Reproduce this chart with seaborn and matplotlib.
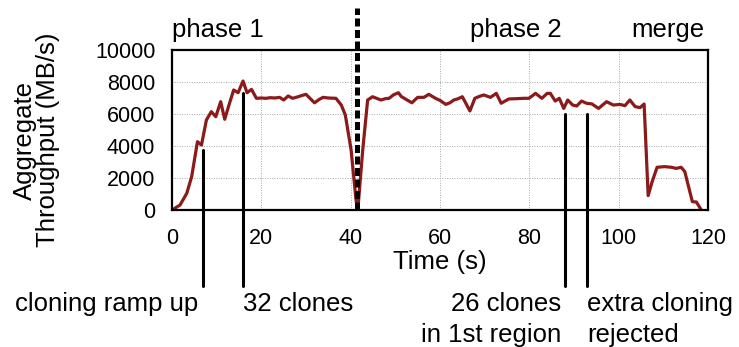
import matplotlib
matplotlib.use("Agg")
import matplotlib.pyplot as plt
import matplotlib.transforms as mtransforms
import pandas as pd
import seaborn as sns

# Aggregate throughput over time (seconds, MB/s)
time_s = [
    0, 1.8, 3.3, 4.4, 5.7, 6.6, 7.7, 8.8, 9.8, 10.9, 11.8, 12.8, 13.8, 14.8,
    15.9, 16.8, 17.8, 18.9, 20, 21, 22, 23, 24.1, 25, 26, 27, 28, 29, 30, 31,
    31.9, 32.9, 33.8, 35, 36.7, 37.9, 38.8, 40.1, 41.2, 41.6, 42.7, 43.8, 44.9,
    45.8, 46.8, 47.8, 48.6, 49.6, 50.7, 51.3, 52, 53.7, 55, 56.4, 57.5, 59, 60,
    61.3, 62.2, 63.1, 64, 65, 66.7, 67.8, 68.8, 69.8, 71.3, 72.6, 73.7, 74.5,
    75.4, 77.3, 78.7, 79.9, 81.4, 82.8, 84, 84.7, 85.8, 86.7, 87.7, 88.6, 89.7,
    90.6, 91.7, 92.8, 94, 95.5, 97.3, 98.8, 100.3, 101.4, 102.5, 103.7, 104.8,
    105.7, 106.6, 107.5, 108.6, 110.3, 111.8, 112.9, 114, 114.8, 116.5, 117.4,
    118.5,
]
throughput = [
    0, 312, 1040, 2080, 4270, 4060, 5625, 6145, 5830, 6770, 5670, 6600, 7500,
    7330, 8060, 7330, 7540, 6980, 7000, 6980, 7020, 7000, 7040, 6875, 7125,
    6980, 7060, 7150, 7230, 6950, 6700, 6900, 7040, 7000, 6980, 6560, 5940,
    3750, 625, 0, 3750, 6875, 7080, 6980, 6875, 6960, 6980, 7200, 7330, 7100,
    6980, 6700, 7040, 7040, 7230, 6980, 6850, 6600, 6700, 6875, 6950, 7080,
    6190, 6980, 7100, 7190, 7040, 7290, 6670, 6800, 6940, 6960, 6980, 6980,
    7290, 6980, 7290, 7290, 6810, 6980, 6350, 6875, 6560, 6500, 6810, 6670,
    6630, 6350, 6770, 6560, 6600, 6520, 6875, 6460, 6400, 6625, 900, 1770,
    2670, 2710, 2670, 2600, 2670, 2400, 520, 500, 0,
]

x_ticks = [0, 20, 40, 60, 80, 100, 120]
y_ticks = [0, 2000, 4000, 6000, 8000, 10000]

# Phase boundary and annotated events
boundary_t = 41.5
events_t = [6.85, 15.9, 88.0, 93.0]
events_top = [3750, 7330, 6000, 6000]
event_labels = [
    ["cloning ramp up"],
    ["32 clones"],
    ["26 clones", "in 1st region"],
    ["extra cloning", "rejected"],
]
event_align = ["right", "left", "right", "left"]

df = pd.DataFrame({"Time (s)": time_s, "Throughput": throughput})

sns.set_theme(style="white")
plt.rcParams["font.family"] = ["Liberation Sans", "DejaVu Sans"]
plt.rcParams["text.color"] = "black"
plt.rcParams["axes.labelcolor"] = "black"
plt.rcParams["xtick.color"] = "black"
plt.rcParams["ytick.color"] = "black"

BIG = 18.5

fig = plt.figure(figsize=(7.39, 3.47), dpi=100)
ax = fig.add_axes([172 / 739, 1 - 210 / 347, 536 / 739, 160 / 347])

sns.lineplot(data=df, x="Time (s)", y="Throughput", ax=ax, color="#8b1a1a",
             linewidth=2.3, estimator=None, sort=False, zorder=3)

ax.set_xlim(0, 120)
ax.set_ylim(0, 10000)
ax.set_xticks(x_ticks)
ax.set_yticks(y_ticks)
ax.tick_params(axis="both", length=0, labelsize=15.5, colors="black")
ax.tick_params(axis="x", pad=13)
ax.tick_params(axis="y", pad=12)
ax.grid(True, color="#a8a8a8", linestyle=(0, (1, 1.5)), linewidth=0.7)
for sp in ax.spines.values():
    sp.set_color("black")
    sp.set_linewidth(1.6)
    sp.set_zorder(5)

ax.set_xlabel("Time (s)", fontsize=BIG, color="black")
ax.xaxis.set_label_coords(0.5, -0.25)
ax.set_ylabel("")
fig.text(36 / 739, 1 - 140 / 347, "Aggregate\nThroughput (MB/s)", rotation=90,
         ha="center", va="center", fontsize=BIG, linespacing=0.95, color="black")

blend = mtransforms.blended_transform_factory(ax.transData, ax.transAxes)

# Phase separator
ax.plot([boundary_t, boundary_t], [0, 1.2625], transform=blend, color="black",
        linewidth=3.6, linestyle=(0, (1.6, 0.7)), clip_on=False, zorder=6)

# Top labels
ax.text(0, 1.08, "phase 1", transform=blend, ha="left", va="baseline", fontsize=BIG)
ax.text(87.2, 1.08, "phase 2", transform=blend, ha="right", va="baseline", fontsize=BIG)
ax.text(119.3, 1.08, "merge", transform=blend, ha="right", va="baseline", fontsize=BIG)

# Event markers below the axis
bottom_frac = (210 - 286) / 160
for t, top, lines, align in zip(events_t, events_top, event_labels, event_align):
    ax.plot([t, t], [bottom_frac, top / 10000], transform=blend, color="black",
            linewidth=2.2, clip_on=False, zorder=6)
    dx = -4 if align == "right" else 0
    for i, line in enumerate(lines):
        ax.annotate(line, xy=(t, (210 - 311 - 31 * i) / 160), xycoords=blend,
                    xytext=(dx, 0), textcoords="offset pixels",
                    ha=align, va="baseline", fontsize=BIG, annotation_clip=False)

fig.savefig("out.png", dpi=100)
